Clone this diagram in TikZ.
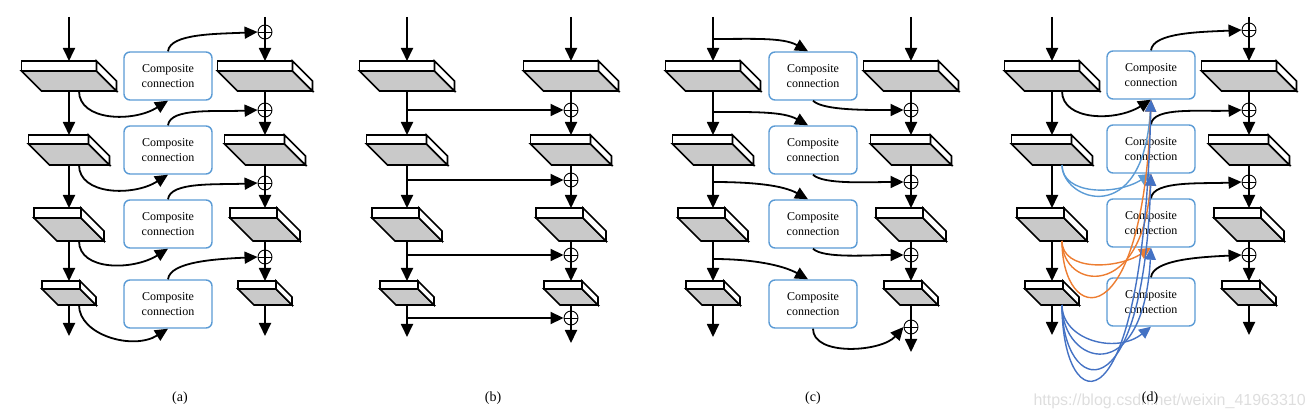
\documentclass[tikz,border=0pt]{standalone}
\usepackage{fontspec}
\setmainfont{Liberation Serif}
\newfontfamily\wmfont{Liberation Sans}
\usetikzlibrary{arrows.meta}
\definecolor{slabgray}{HTML}{C9C9C9}
\definecolor{ccblue}{HTML}{5B9BD5}
\definecolor{lblue}{HTML}{5B9BD5}
\definecolor{lorange}{HTML}{ED7D31}
\definecolor{dblue}{HTML}{4472C4}
\tikzset{
  slabline/.style={line width=1.7pt},
  flow/.style={line width=1.8pt, -{Triangle[length=13pt,width=12pt]}},
  link/.style={line width=1.8pt},
  dense/.style={line width=1.4pt, -{Triangle[length=12pt,width=11pt]}},
  ccbox/.style={draw=ccblue, line width=1.4pt, rounded corners=6pt, fill=white,
    minimum width=88pt, minimum height=48pt, align=center, inner sep=0pt,
    font=\fontsize{12}{14.5}\selectfont},
  oplus/.style={circle, draw, line width=0.9pt, minimum size=14pt, inner sep=0pt,
    path picture={\draw[line width=0.9pt] (path picture bounding box.west) -- (path picture bounding box.east);
      \draw[line width=1.8pt] (path picture bounding box.north) -- (path picture bounding box.south);}},
  caption/.style={font=\fontsize{14}{16}\selectfont},
}
% slab: name, column x, top, width, depth, front height
\newcommand{\slab}[6]{%
  \pgfmathsetmacro\xl{#2-(#4+#5)/2}
  \draw[slabline,fill=white] (\xl,#3) rectangle ++(#4,#6);
  \draw[slabline,fill=slabgray] (\xl,#3+#6) -- ++(#4,0) -- ++(#5,#5) -- ++(-#4,0) -- cycle;
  \draw[slabline,fill=white] (\xl+#4,#3) -- ++(#5,#5) -- ++(0,#6) -- ++(-#5,-#5) -- cycle;
  \coordinate (#1-t) at (#2,#3);
  \coordinate (#1-b) at (#2,#3+#6+#5);
  \coordinate (#1-c) at (#2+10,#3+#6+#5);
}
\newcommand{\slabcol}[2]{%
  \foreach \k/\ya/\wa/\da/\sa in {1/61/75/20/10,2/135/60/21/9,3/208/47/23/10,4/281/38/16/8}
    {\slab{#1\k}{#2}{\ya}{\wa}{\da}{\sa}}%
}
\begin{document}
\begin{tikzpicture}[x=1pt,y=-1pt,line join=miter]
\useasboundingbox (0,0) rectangle (1311,419);

% (a)
\slabcol{aL}{69} \slabcol{aR}{265}
\foreach \k/\y in {1/76,2/150,3/224,4/304} \node[ccbox] (aC\k) at (168,\y) {Composite\\connection};
\foreach \k/\y in {1/32,2/110,3/183,4/257} \node[oplus] (aP\k) at (265,\y) {};
\coordinate (aLin) at (69,17); \coordinate (aLout) at (69,336);
\draw[flow] (aLin) -- (aL1-t);
\foreach \k/\n in {1/2,2/3,3/4} \draw[flow] (aL\k-b) -- (aL\n-t);
\draw[flow] (aL4-b) -- (aLout);
\coordinate (aRin) at (265,17); \coordinate (aRout) at (265,336);
\draw[link] (aRin) -- (aP1.north);
\draw[flow] (aP1.south) -- (aR1-t);
\foreach \k/\n in {1/2,2/3,3/4} {\draw[link] (aR\k-b) -- (aP\n.north); \draw[flow] (aP\n.south) -- (aR\n-t);}
\draw[flow] (aR4-b) -- (aRout);
\foreach \k in {1,...,4} {
  \draw[flow] (aL\k-c) .. controls +(0,30) and +(-35,22) .. (aC\k.south);
  \draw[flow] (aC\k.north) .. controls +(2,-18) and +(-40,2) .. (aP\k.west);
}
\node[caption] (capa) at (180,398) {(a)};

% (b)
\slabcol{bL}{407} \slabcol{bR}{571}
\foreach \k/\y in {1/110,2/180,3/255,4/318} \node[oplus] (bP\k) at (571,\y) {};
\coordinate (bLin) at (407,17); \coordinate (bLout) at (407,337);
\draw[flow] (bLin) -- (bL1-t);
\foreach \k/\n in {1/2,2/3,3/4} \draw[flow] (bL\k-b) -- (bL\n-t);
\draw[flow] (bL4-b) -- (bLout);
\coordinate (bRin) at (571,17); \coordinate (bRout) at (571,343);
\draw[flow] (bRin) -- (bR1-t);
\foreach \k/\n in {1/2,2/3,3/4} {\draw[link] (bR\k-b) -- (bP\k.north); \draw[flow] (bP\k.south) -- (bR\n-t);}
\draw[link] (bR4-b) -- (bP4.north);
\draw[flow] (bP4.south) -- (bRout);
\foreach \k in {1,...,4} \draw[flow] (bLin |- bP\k) -- (bP\k.west);
\node[caption] (capb) at (493,398) {(b)};

% (c)
\slabcol{cL}{713} \slabcol{cR}{911}
\foreach \k/\y in {1/76,2/150,3/224,4/304} \node[ccbox] (cC\k) at (813,\y) {Composite\\connection};
\foreach \k/\y in {1/110,2/182,3/255,4/327} \node[oplus] (cP\k) at (911,\y) {};
\coordinate (cLin) at (713,17); \coordinate (cLout) at (713,337);
\draw[flow] (cLin) -- (cL1-t);
\foreach \k/\n in {1/2,2/3,3/4} \draw[flow] (cL\k-b) -- (cL\n-t);
\draw[flow] (cL4-b) -- (cLout);
\coordinate (cRin) at (911,17); \coordinate (cRout) at (911,352);
\draw[flow] (cRin) -- (cR1-t);
\foreach \k/\n in {1/2,2/3,3/4} {\draw[link] (cR\k-b) -- (cP\k.north); \draw[flow] (cP\k.south) -- (cR\n-t);}
\draw[link] (cR4-b) -- (cP4.north);
\draw[flow] (cP4.south) -- (cRout);
\foreach \k/\y in {1/39,2/112,3/182,4/259} {
  \coordinate (cS\k) at (713,\y);
  \draw[flow] (cS\k) .. controls +(40,0) and +(-25,-14) .. ([xshift=-5pt]cC\k.north);
}
\foreach \k in {1,2,3} \draw[flow] (cC\k.south) .. controls +(10,10) and +(-35,0) .. (cP\k.west);
\draw[flow] (cC4.south) .. controls +(0,28) and +(-22,25) .. (cP4.west);
\node[caption] (capc) at (813,398) {(c)};

% (d)
\node[anchor=base west, text=black!13, font=\wmfont\fontsize{16}{16}\selectfont] (wm) at (1030,405) {https://blog.csdn.net/weixin\_41963310};
\slabcol{dL}{1052} \slabcol{dR}{1249}
\foreach \k/\y in {1/75,2/149,3/223,4/302} \node[ccbox] (dC\k) at (1151,\y) {Composite\\connection};
\foreach \k/\y in {1/30,2/110,3/182,4/255} \node[oplus] (dP\k) at (1249,\y) {};
\coordinate (dLin) at (1052,17); \coordinate (dLout) at (1052,335);
\draw[flow] (dLin) -- (dL1-t);
\foreach \k/\n in {1/2,2/3,3/4} \draw[flow] (dL\k-b) -- (dL\n-t);
\draw[flow] (dL4-b) -- (dLout);
\coordinate (dRin) at (1249,17); \coordinate (dRout) at (1249,335);
\draw[link] (dRin) -- (dP1.north);
\draw[flow] (dP1.south) -- (dR1-t);
\foreach \k/\n in {1/2,2/3,3/4} {\draw[link] (dR\k-b) -- (dP\n.north); \draw[flow] (dP\n.south) -- (dR\n-t);}
\draw[flow] (dR4-b) -- (dRout);
\draw[flow] (dL1-c) .. controls +(0,30) and +(-35,22) .. (dC1.south);
\foreach \k in {1,...,4} \draw[flow] (dC\k.north) .. controls +(2,-18) and +(-40,2) .. (dP\k.west);
% dense links
\draw[dense,lblue] (dL2-c) .. controls +(0,30) and +(-35,22) .. (dC2.south);
\draw[dense,lblue] (dL2-c) .. controls +(0,35) and +(-8,131) .. (dC1.south);
\draw[dense,lorange] (dL3-c) .. controls +(0,30) and +(-35,22) .. (dC3.south);
\draw[dense,lorange] (dL3-c) .. controls +(0,49) and +(-8,128) .. (dC2.south);
\draw[dense,lorange] (dL3-c) .. controls +(0,84) and +(-8,241) .. (dC1.south);
\draw[dense,dblue] (dL4-c) .. controls +(0,35) and +(-35,28) .. (dC4.south);
\draw[dense,dblue] (dL4-c) .. controls +(0,60) and +(-8,143) .. (dC3.south);
\draw[dense,dblue] (dL4-c) .. controls +(0,90) and +(-8,247) .. (dC2.south);
\draw[dense,dblue] (dL4-c) .. controls +(0,115) and +(-8,341) .. (dC1.south);
\node[caption] (capd) at (1150,398) {(d)};
\end{tikzpicture}
\end{document}
